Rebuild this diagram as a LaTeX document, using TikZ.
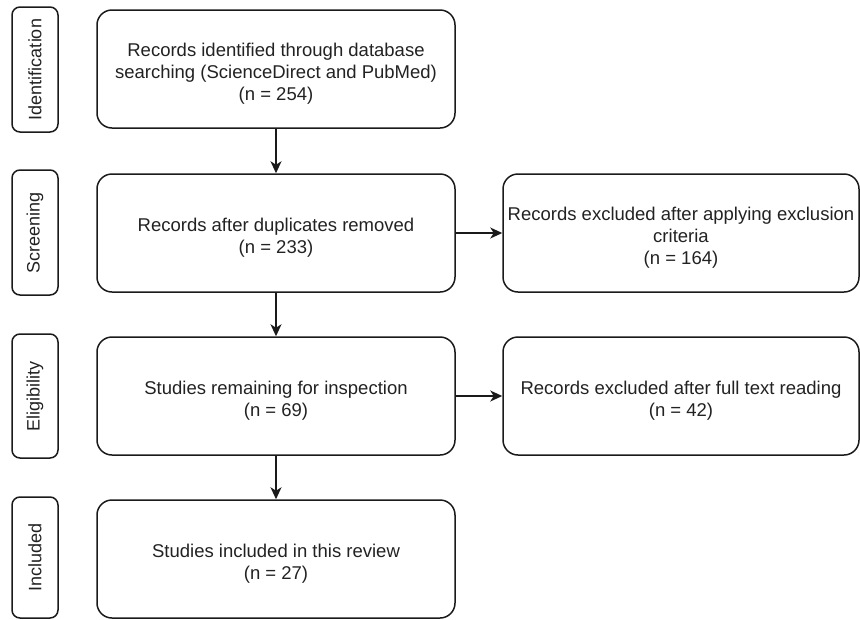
\documentclass[tikz,border=0pt]{standalone}
\usepackage{fontspec}
\setmainfont{Liberation Sans}
\usetikzlibrary{arrows.meta}
\definecolor{ink}{HTML}{1A1A1A}
\definecolor{txt}{HTML}{222222}
\begin{document}
\begin{tikzpicture}[x=1pt,y=-1pt,
  mainbox/.style={draw=ink, line width=1.5pt, rounded corners=15pt, minimum width=358pt, minimum height=118pt, inner sep=0pt},
  boxtext/.style={align=center, text=txt, inner sep=0pt, font=\fontsize{18.5}{22}\selectfont},
  sidebox/.style={draw=ink, line width=1.5pt, rounded corners=8pt, rotate=90, minimum height=46pt, align=center, text=txt, inner sep=2pt, font=\fontsize{18}{22}\selectfont},
  flow/.style={draw=ink, line width=1.5pt, -{Stealth[length=12pt,width=11pt,inset=3.5pt]}}
]
\useasboundingbox (0,0) rectangle (860,619);
% side labels
\node[sidebox, minimum width=125pt] (sid) at (35,69.5) {Identification};
\node[sidebox, minimum width=125pt] (ssc) at (35,232.5) {Screening};
\node[sidebox, minimum width=124pt] (sel) at (35,396) {Eligibility};
\node[sidebox, minimum width=121pt] (sin) at (35,557.5) {Included};
% main boxes
\node[mainbox] (b1) at (276,69) {};
\node[mainbox] (b2) at (276,233) {};
\node[mainbox] (b3) at (276,396) {};
\node[mainbox] (b4) at (276,559) {};
% right boxes
\node[mainbox, minimum width=356pt] (r1) at (681,233) {};
\node[mainbox, minimum width=356pt] (r2) at (681,396) {};
% texts
\node[boxtext] (t1) at ([yshift=-5pt]b1.center) {Records identified through database\\searching (ScienceDirect and PubMed)\\(n = 254)};
\node[boxtext] (t2) at ([yshift=-5pt]b2.center) {Records after duplicates removed\\(n = 233)};
\node[boxtext] (t3) at ([yshift=-5pt]b3.center) {Studies remaining for inspection\\(n = 69)};
\node[boxtext] (t4) at ([yshift=-5pt]b4.center) {Studies included in this review\\(n = 27)};
\node[boxtext] (tr1) at ([yshift=-5pt]r1.center) {Records excluded after applying exclusion\\criteria\\(n = 164)};
\node[boxtext] (tr2) at ([yshift=-5pt]r2.center) {Records excluded after full text reading\\(n = 42)};
% connectors
\draw[flow] (b1) -- (b2);
\draw[flow] (b2) -- (b3);
\draw[flow] (b3) -- (b4);
\draw[flow] (b2) -- (r1);
\draw[flow] (b3) -- (r2);
\end{tikzpicture}
\end{document}
